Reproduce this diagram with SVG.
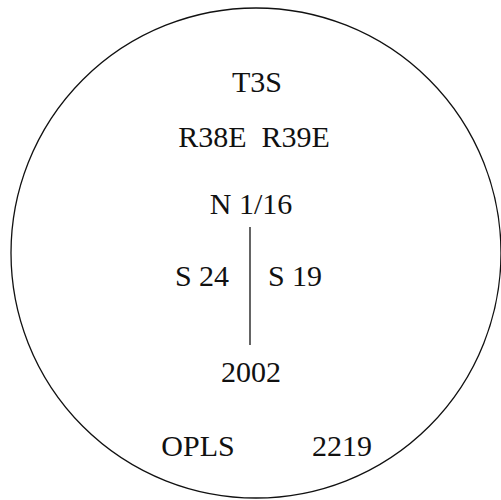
<svg xmlns="http://www.w3.org/2000/svg" width="501" height="500" viewBox="0 0 501 500">
<style>
text{font-family:"Liberation Serif","Times New Roman",serif;font-size:30px;fill:#111;text-anchor:middle}
</style>
<rect width="501" height="500" fill="#fff"/>
<g id="cap">
<circle cx="256" cy="253" r="245" fill="none" stroke="#111" stroke-width="1.3"/>
</g>
<g id="labels">
<text x="257" y="92">T3S</text>
<text x="254" y="147" xml:space="preserve">R38E  R39E</text>
<text x="251" y="214">N 1/16</text>
<text x="202" y="286">S 24</text>
<text x="295" y="286">S 19</text>
<text x="251" y="382">2002</text>
<text x="198" y="456">OPLS</text>
<text x="342" y="456">2219</text>
</g>
<g id="connectors">
<line x1="250" y1="227" x2="250" y2="345" stroke="#111" stroke-width="1.3"/>
</g>
</svg>
